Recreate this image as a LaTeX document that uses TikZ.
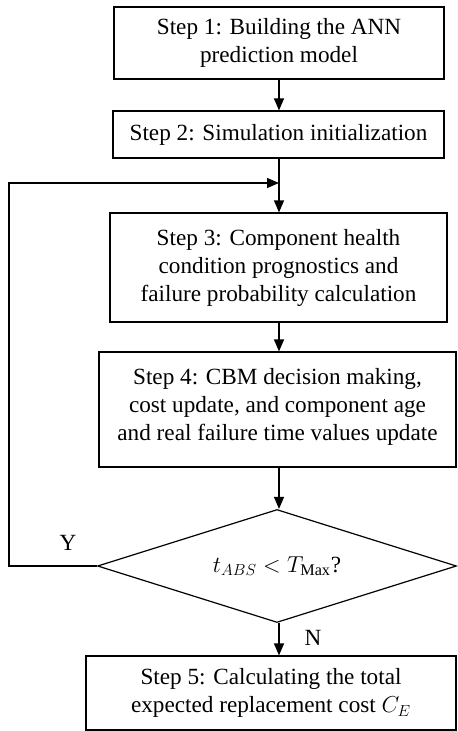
\documentclass[tikz,border=0pt]{standalone}
\usepackage{fontspec}
\setmainfont{Liberation Serif}
\usetikzlibrary{arrows.meta,shapes.geometric}

\begin{document}
\begin{tikzpicture}[x=0.75pt,y=-0.75pt,line width=0.9pt,
    stepbox/.style={draw,align=center,inner sep=0pt,font=\fontsize{17.4}{21}\selectfont},
    test/.style={draw,shape=diamond,aspect=3.18,inner sep=0pt,font=\fontsize{17.4}{21}\selectfont},
    flow/.style={-{Triangle[length=9pt,width=7.5pt]}}]
  \useasboundingbox (0,0) rectangle (457,731);

  \draw (279,43) node[stepbox,minimum width=247.5pt,minimum height=54pt] (ann) {Step 1: Building the ANN\\prediction model};
  \draw (278.5,134.5) node[stepbox,minimum width=248.25pt,minimum height=35.25pt] (init) {Step 2: Simulation initialization};
  \draw (278.5,267.5) node[stepbox,minimum width=252.75pt,minimum height=81.75pt] (prog) {Step 3: Component health\\condition prognostics and\\failure probability calculation};
  \draw (277.5,409.5) node[stepbox,minimum width=267.75pt,minimum height=86.25pt] (cbm) {Step 4: CBM decision making,\\cost update, and component age\\and real failure time values update\\[-14pt]\mbox{}};
  \draw (277,566) node[test,minimum width=269.25pt,minimum height=84.75pt] (tabs) {$t_{ABS} < T_{\mathrm{Max}}$?};
  \draw (271,693) node[stepbox,minimum width=277.5pt,minimum height=55.5pt] (cost) {Step 5: Calculating the total\\expected replacement cost $C_E$};

  \coordinate (back) at (9,183);
  \coordinate (join) at (279,183);
  \draw (68,543) node[font=\fontsize{17.4}{21}\selectfont] (Y) {Y};
  \draw (313,638) node[font=\fontsize{17.4}{21}\selectfont] (N) {N};

  \draw[flow] (ann.south -| join) -- (init.north -| join);
  \draw[flow] (init.south -| join) -- (prog.north -| join);
  \draw[flow] (prog.south -| join) -- (cbm.north -| join);
  \draw[flow] (cbm.south -| join) -- (tabs.north -| join);
  \draw[flow] (tabs.south -| join) -- (cost.north -| join);
  \draw[flow] (tabs.west) -| (back) -- (join);

\end{tikzpicture}
\end{document}
